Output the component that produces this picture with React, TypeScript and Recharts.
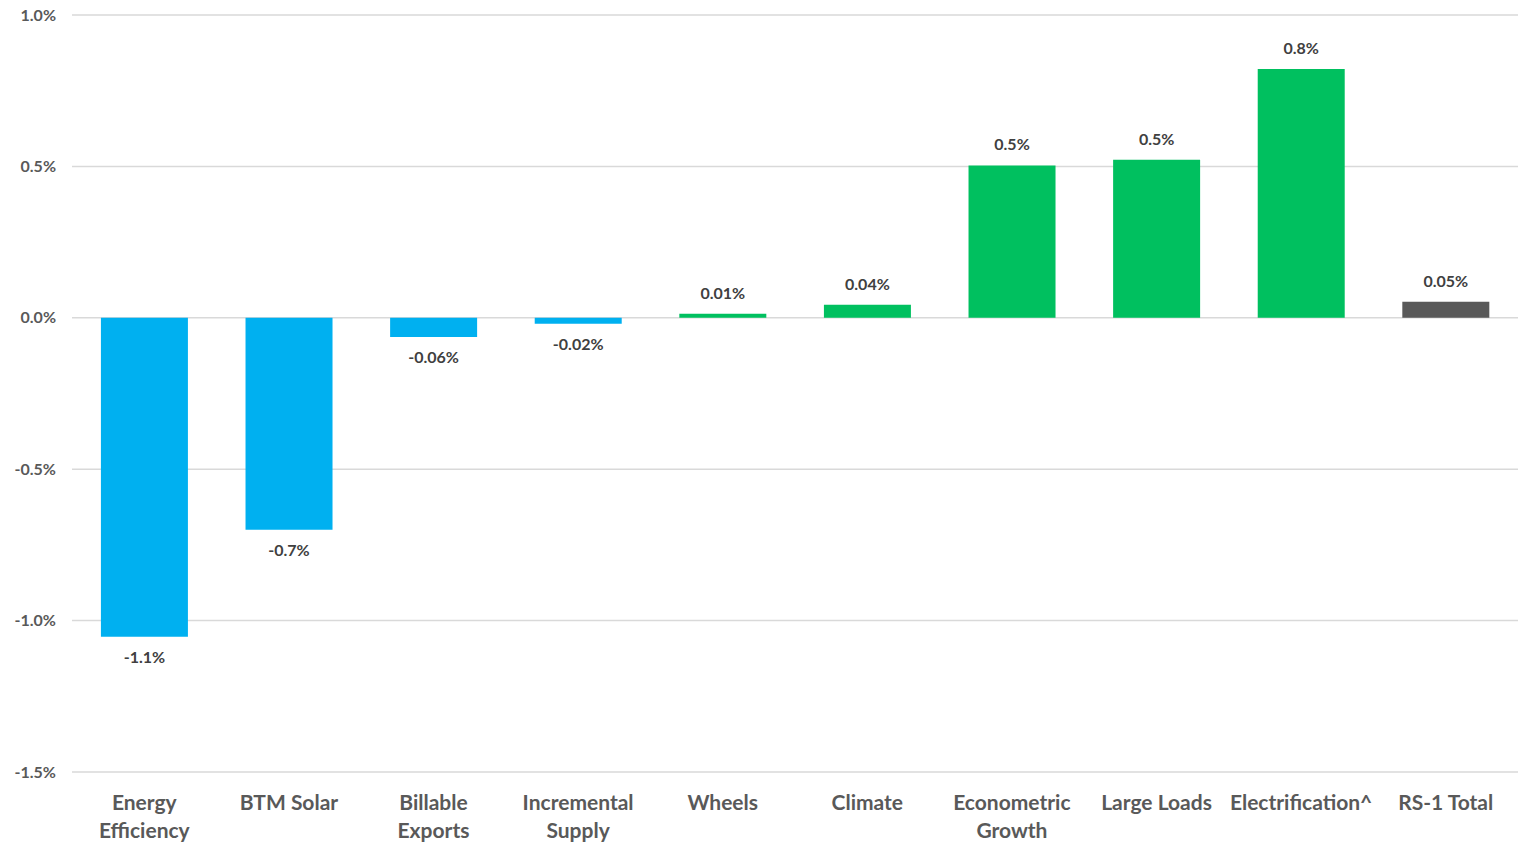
import React from "react";
import { BarChart, Bar, XAxis, YAxis, CartesianGrid, Cell, LabelList } from "recharts";

const categories = [
  "Energy Efficiency",
  "BTM Solar",
  "Billable Exports",
  "Incremental Supply",
  "Wheels",
  "Climate",
  "Econometric Growth",
  "Large Loads",
  "Electrification^",
  "RS-1 Total",
];

// percent values
const values = [-1.053, -0.7, -0.063, -0.02, 0.013, 0.043, 0.503, 0.522, 0.822, 0.053];

const valueLabels = ["-1.1%", "-0.7%", "-0.06%", "-0.02%", "0.01%", "0.04%", "0.5%", "0.5%", "0.8%", "0.05%"];

// how the category names wrap in the axis
const tickLines: Record<string, string[]> = {
  "Energy Efficiency": ["Energy", "Efficiency"],
  "Billable Exports": ["Billable", "Exports"],
  "Incremental Supply": ["Incremental", "Supply"],
  "Econometric Growth": ["Econometric", "Growth"],
};

const yTicks = [-1.5, -1.0, -0.5, 0, 0.5, 1.0];

const BLUE = "#00B0F0";
const GREEN = "#00C05F";
const GRAY = "#595959";

const data = categories.map((name, i) => ({
  name,
  value: values[i],
  label: valueLabels[i],
}));

const barColor = (i: number) => {
  if (i === categories.length - 1) return GRAY;
  return values[i] < 0 ? BLUE : GREEN;
};

const font = "Lato, 'Open Sans', sans-serif";

const CategoryTick = ({ x, y, payload }: { x: number; y: number; payload: { value: string } }) => {
  const lines = tickLines[payload.value] || [payload.value];
  return (
    <text x={x} y={y} textAnchor="middle" fontSize={21} fontWeight={700} fill="#595959" fontFamily={font}>
      {lines.map((l, i) => (
        <tspan key={i} x={x} dy={i === 0 ? 30 : 28}>
          {l}
        </tspan>
      ))}
    </text>
  );
};

const ValueLabel = (props: any) => {
  const { x, y, width, height, index } = props;
  const v = values[index];
  const cx = x + width / 2;
  // positive labels sit above the bar, negative below
  const top = Math.min(y, y + height);
  const bottom = Math.max(y, y + height);
  const ty = v >= 0 ? top - 15 : bottom + 26;
  return (
    <text x={cx} y={ty} textAnchor="middle" fontSize={16} fontWeight={700} fill="#404040" fontFamily={font}>
      {valueLabels[index]}
    </text>
  );
};

export default function App() {
  return (
    <div style={{ position: "absolute", left: 0, top: 0, background: "#fff" }}>
      <BarChart
        width={1518}
        height={842}
        data={data}
        margin={{ top: 15, right: 0, bottom: 0, left: 0 }}
        barCategoryGap="20%"
      >
        <CartesianGrid vertical={false} stroke="#d9d9d9" strokeWidth={1.5} />
        <XAxis
          dataKey="name"
          axisLine={false}
          tickLine={false}
          height={70}
          interval={0}
          tick={CategoryTick as any}
        />
        <YAxis
          domain={[-1.5, 1.0]}
          ticks={yTicks}
          width={72}
          axisLine={false}
          tickLine={false}
          tickMargin={10}
          tickFormatter={(v: number) => `${v.toFixed(1)}%`}
          tick={{ fontSize: 16, fontWeight: 700, fill: "#595959", fontFamily: font }}
        />
        <Bar dataKey="value" isAnimationActive={false}>
          {data.map((d, i) => (
            <Cell key={d.name} fill={barColor(i)} />
          ))}
          <LabelList dataKey="label" content={ValueLabel} />
        </Bar>
      </BarChart>
    </div>
  );
}
